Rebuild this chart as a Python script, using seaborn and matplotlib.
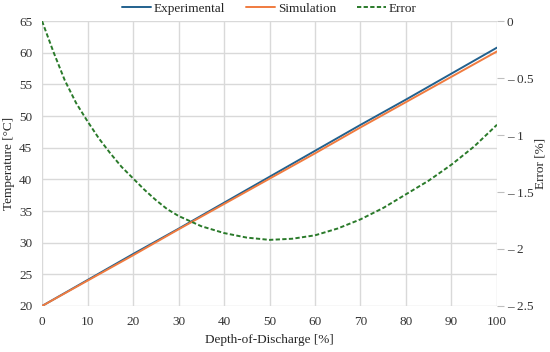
import pandas as pd
import seaborn as sns
import numpy as np
import matplotlib.pyplot as plt
from matplotlib.lines import Line2D

#data
dod = [0, 10, 20, 30, 40, 50, 60, 70, 80, 90, 100]
experimental = [20.0, 24.1, 28.2, 32.2, 36.3, 40.4, 44.5, 48.6, 52.6, 56.7, 60.8]
simulation = [20.0, 24.0, 28.0, 32.1, 36.1, 40.1, 44.1, 48.2, 52.2, 56.2, 60.2]

err_dod = [0, 2.5, 5, 7.5, 10, 12.5, 15, 17.5, 20, 22.5, 25, 27.5, 30, 35, 40, 45, 50,
           55, 60, 65, 70, 75, 80, 85, 90, 95, 100]
error = [0.0, -0.27, -0.52, -0.72, -0.88, -1.03, -1.16, -1.28, -1.38, -1.48, -1.57, -1.65, -1.71,
         -1.80, -1.86, -1.90, -1.92, -1.91, -1.88, -1.82, -1.74, -1.64, -1.52, -1.40, -1.26, -1.10, -0.91]

right_ticks = [0, -0.5, -1, -1.5, -2, -2.5]
right_labels = ["0", "\u2013 0.5", "\u2013 1", "\u2013 1.5", "\u2013 2", "\u2013 2.5"]

#colors
c_exp = "#22618E"
c_sim = "#F07B3F"
c_err = "#2A7A2A"
grid_c = "#D9D9D9"

sns.set_style("whitegrid")
plt.rcParams['font.family'] = ['Liberation Serif', 'DejaVu Serif']
plt.rcParams['font.size'] = 9.5

temps = pd.DataFrame({'dod': dod, 'exp': experimental, 'sim': simulation})
errs = pd.DataFrame({'dod': err_dod, 'err': error})

fig = plt.figure(figsize=(5.5, 3.52), dpi=100)
ax = fig.add_axes([0.0764, 0.1307, 0.8272, 0.8096])
sns.lineplot(x='dod', y='exp', data=temps, color=c_exp, lw=1.4, ax=ax)
sns.lineplot(x='dod', y='sim', data=temps, color=c_sim, lw=1.4, ax=ax)
ax.set_xlim(0, 100)
ax.set_ylim(20, 65)
ax.set_xticks(range(0, 101, 10))
ax.set_yticks(range(20, 66, 5))
ax.grid(True, color=grid_c, lw=1)
for s in ax.spines.values():
    s.set_visible(False)
ax.tick_params(length=0, pad=7, colors='#333333', labelsize=9.5)
ax.set_xlabel('Depth-of-Discharge [%]', fontsize=9.5)
ax.set_ylabel('Temperature [°C]', fontsize=9.5)
ax.xaxis.set_label_coords(0.5, -0.1)
ax.yaxis.set_label_coords(-0.06, 0.5)

ax2 = ax.twinx()
sns.lineplot(x='dod', y='err', data=errs, color=c_err, lw=1.4, ls=(0, (2.2, 1.2)), ax=ax2)
ax2.set_ylim(-2.5, 0)
ax2.set_yticks(right_ticks)
ax2.set_yticklabels(right_labels)
ax2.grid(False)
for s in ax2.spines.values():
    s.set_visible(False)
ax2.tick_params(axis='y', length=5, width=0.8, color='#BFBFBF', pad=2, labelcolor='#333333', labelsize=9.5)
ax2.set_ylabel('Error [%]', fontsize=9.5, rotation=90)
ax2.yaxis.set_label_coords(1.082, 0.5)
ax2.set_xlabel('')

handles = [Line2D([], [], color=c_exp, lw=1.4),
           Line2D([], [], color=c_sim, lw=1.4),
           Line2D([], [], color=c_err, lw=1.4, ls=(0, (2.2, 1.2)))]
fig.legend(handles, ['Experimental', 'Simulation', 'Error'], loc='center', bbox_to_anchor=(0.49, 0.975),
           ncol=3, frameon=False, handlelength=2.2, handletextpad=0.2, columnspacing=1.6, fontsize=9.5)

fig.savefig('out.png', dpi=100)
